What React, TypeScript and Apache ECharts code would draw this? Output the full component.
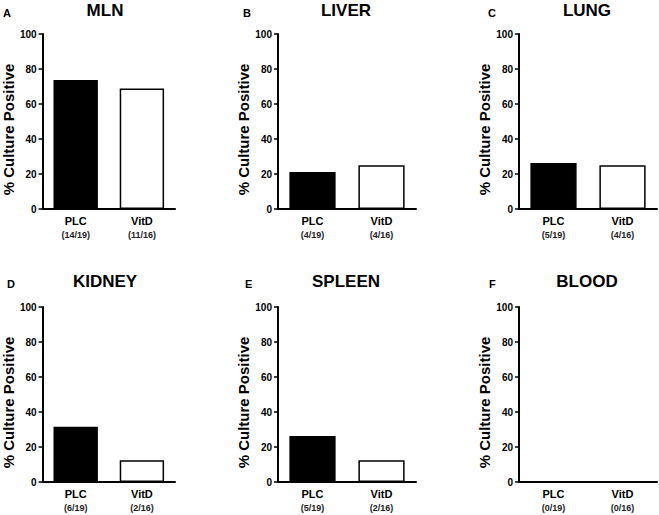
import React, { useEffect, useRef } from "react";
import * as echarts from "echarts";

const categories = ["PLC", "VitD"];
const panelTitles = ["MLN", "LIVER", "LUNG", "KIDNEY", "SPLEEN", "BLOOD"];
const panelLetters = ["A", "B", "C", "D", "E", "F"];
const plcValues = [73.7, 21.1, 26.3, 31.6, 26.3, 0];
const vitdValues = [68.8, 25.0, 25.0, 12.5, 12.5, 0];
const plcCounts = ["14/19", "4/19", "5/19", "6/19", "5/19", "0/19"];
const vitdCounts = ["11/16", "4/16", "4/16", "2/16", "2/16", "0/16"];
const yAxisName = "% Culture Positive";
const yMin = 0;
const yMax = 100;
const yInterval = 20;

const FONT = "Liberation Sans, Arial, sans-serif";

const colLefts = [37, 278, 519];
const rowTops = [34, 307];
const gridW = 138;
const gridH = 175;
const letterX = [3, 243, 488];
const letterXRow2 = [7, 245, 489];

export default function App() {
  const ref = useRef<HTMLDivElement>(null);
  useEffect(() => {
    if (!ref.current) return;
    const chart = echarts.init(ref.current, undefined, { renderer: "svg" });
    const grids: any[] = [];
    const xAxes: any[] = [];
    const yAxes: any[] = [];
    const series: any[] = [];
    const titles: any[] = [];
    panelTitles.forEach((t, i) => {
      const col = i % 3;
      const row = Math.floor(i / 3);
      const left = colLefts[col];
      const top = rowTops[row];
      grids.push({ left, top, width: gridW, height: gridH });
      const counts = [plcCounts[i], vitdCounts[i]];
      xAxes.push({
        type: "category",
        gridIndex: i,
        data: categories,
        axisLine: { lineStyle: { color: "#000", width: 2 } },
        axisTick: { alignWithLabel: true, length: 4, lineStyle: { color: "#000", width: 1.5 } },
        axisLabel: {
          interval: 0,
          hideOverlap: false,
          margin: 5,
          formatter: (v: string, idx: number) => `{a|${v}}\n{b|(${counts[idx]})}`,
          rich: {
            a: { fontFamily: FONT, fontWeight: "bold", fontSize: 11, color: "#000", lineHeight: 14 },
            b: { fontFamily: FONT, fontWeight: "bold", fontSize: 9, color: "#222", lineHeight: 14 },
          },
        },
      });
      yAxes.push({
        type: "value",
        gridIndex: i,
        min: yMin,
        max: yMax,
        interval: yInterval,
        splitLine: { show: false },
        axisLine: { show: true, lineStyle: { color: "#000", width: 2 } },
        axisTick: { show: true, length: 4, lineStyle: { color: "#000", width: 1.5 } },
        axisLabel: { margin: 6, fontFamily: FONT, fontWeight: "bold", fontSize: 10, color: "#000" },
        name: yAxisName,
        nameLocation: "middle",
        nameGap: 22,
        nameTextStyle: {
          fontFamily: FONT,
          fontWeight: "bold",
          fontSize: 15,
          color: "#000",
          padding: [0, 16, 0, 0],
        },
      });
      series.push({
        type: "bar",
        xAxisIndex: i,
        yAxisIndex: i,
        barWidth: "67%",
        data: [
          { value: plcValues[i], itemStyle: { color: "#000", borderColor: "#000", borderWidth: 1.5 } },
          { value: vitdValues[i], itemStyle: { color: "#fff", borderColor: "#000", borderWidth: 1.5 } },
        ],
      });
      titles.push({
        text: t,
        left: left + gridW / 2 - 1,
        top: row === 0 ? 2 : 273,
        padding: 0,
        textAlign: "center",
        textStyle: { fontFamily: FONT, fontWeight: "bold", fontSize: 17, color: "#000" },
      });
      titles.push({
        text: panelLetters[i],
        left: row === 0 ? letterX[col] : letterXRow2[col],
        top: row === 0 ? 7 : 278,
        padding: 0,
        textStyle: { fontFamily: FONT, fontWeight: "bold", fontSize: 11, color: "#000" },
      });
    });
    chart.setOption({
      animation: false,
      backgroundColor: "#fff",
      title: titles,
      grid: grids,
      xAxis: xAxes,
      yAxis: yAxes,
      series,
    });
    return () => chart.dispose();
  }, []);
  return (
    <div
      ref={ref}
      style={{ position: "absolute", left: 0, top: 0, width: 659, height: 515 }}
    />
  );
}
